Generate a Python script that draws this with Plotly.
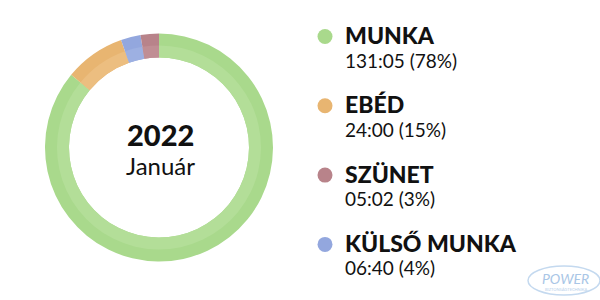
import plotly.graph_objects as go

# Data
labels = ["MUNKA", "EBÉD", "KÜLSŐ MUNKA", "SZÜNET"]
arc_values = [86.0, 8.6, 2.8, 2.6]          # share of ring as drawn
colors = ["#a9d98c", "#e8b571", "#93a7de", "#b8838a"]
light_colors = ["#b3de98", "#ecbe80", "#9db0e2", "#c08e94"]
legend_labels = ["MUNKA", "EBÉD", "SZÜNET", "KÜLSŐ MUNKA"]
legend_values = ["131:05 (78%)", "24:00 (15%)", "05:02 (3%)", "06:40 (4%)"]
legend_colors = ["#a9d98c", "#e8b571", "#b8838a", "#93a7de"]
center_year = "2022"
center_month = "Január"

W, H = 600, 300
cx, cy, R, R_mid, R_in = 159, 147.5, 114, 102, 90

def dom(r):
    return dict(x=[(cx - r) / W, (cx + r) / W],
                y=[1 - (cy + r) / H, 1 - (cy - r) / H])

fig = go.Figure()
fig.add_trace(go.Pie(values=arc_values, labels=labels, sort=False,
                     direction="clockwise", rotation=0, hole=R_in / R,
                     marker=dict(colors=colors, line=dict(width=0)),
                     textinfo="none", hoverinfo="skip", showlegend=False,
                     domain=dom(R)))
fig.add_trace(go.Pie(values=arc_values, labels=labels, sort=False,
                     direction="clockwise", rotation=0, hole=R_in / R_mid,
                     marker=dict(colors=light_colors, line=dict(width=0)),
                     textinfo="none", hoverinfo="skip", showlegend=False,
                     domain=dom(R_mid)))

# legend markers via scatter on pixel-like axes
ys = [36.5 + 69.3 * i for i in range(len(legend_labels))]
fig.add_trace(go.Scatter(x=[325] * len(ys), y=ys, mode="markers",
                         marker=dict(size=15, color=legend_colors),
                         hoverinfo="skip", showlegend=False))

annotations = []
annotations.append(dict(x=cx + 1, y=134, text=center_year,
                        font=dict(family="Lato", size=29, color="#111", weight=900),
                        showarrow=False, xanchor="center", yanchor="middle"))
annotations.append(dict(x=cx + 1, y=165, text=center_month,
                        font=dict(family="Lato", size=24, color="#111"),
                        showarrow=False, xanchor="center", yanchor="middle"))
for lab, val, y in zip(legend_labels, legend_values, ys):
    annotations.append(dict(x=343, y=y - 1.5, text=lab,
                            font=dict(family="Lato", size=23, color="#111", weight=900),
                            showarrow=False, xanchor="left", yanchor="middle"))
    annotations.append(dict(x=343, y=y + 23.5, text=val,
                            font=dict(family="Lato", size=19, color="#111"),
                            showarrow=False, xanchor="left", yanchor="middle"))
annotations.append(dict(x=565, y=278, text="<i>POWER</i>",
                        font=dict(family="Lato", size=14, color="#a9c6e6"),
                        showarrow=False, xanchor="center", yanchor="middle"))
annotations.append(dict(x=566, y=289, text="BIZTONSÁGTECHNIKA",
                        font=dict(family="Lato", size=4, color="#b8d0ea"),
                        showarrow=False, xanchor="center", yanchor="middle"))

fig.update_layout(
    width=W, height=H, margin=dict(l=0, r=0, t=0, b=0),
    paper_bgcolor="white", plot_bgcolor="rgba(0,0,0,0)",
    xaxis=dict(range=[0, W], visible=False, domain=[0, 1], fixedrange=True),
    yaxis=dict(range=[H, 0], visible=False, domain=[0, 1], fixedrange=True),
    annotations=annotations,
    shapes=[dict(type="circle", xref="x", yref="y", x0=528, x1=600, y0=266, y1=295,
                 line=dict(color="#c4d9ef", width=1.5))],
)

fig.write_html("out.html")
